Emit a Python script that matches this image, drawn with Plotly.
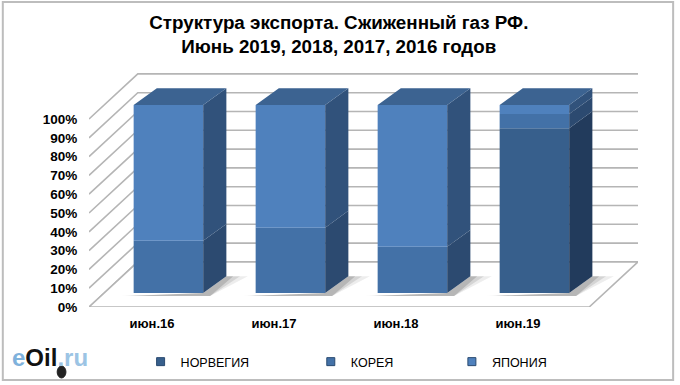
import plotly.graph_objects as go

categories = ["июн.16", "июн.17", "июн.18", "июн.19"]
norway = [0, 0, 0, 87.7]
korea = [27.8, 34.8, 24.6, 7.5]
japan = [72.2, 65.2, 75.4, 4.8]
y_ticks = list(range(0, 101, 10))
title = "Структура экспорта. Сжиженный газ РФ.<br>Июнь 2019, 2018, 2017, 2016 годов"

series = [
    ("НОРВЕГИЯ", norway, "#375f8c", "#223b5c", "legend", 0.094),
    ("КОРЕЯ", korea, "#4371a7", "#2c4a70", "legend2", 0.404),
    ("ЯПОНИЯ", japan, "#4f81bd", "#31527b", "legend3", 0.661),
]

# Oblique projection, expressed in axis units
X0, X1 = -0.516, 3.984
WALL_DX, WALL_DY = 0.40, 24.0      # depth of the floor / side wall
BAR_SHIFT, BAR_BASE = 0.135, 7.4   # front face of bars relative to front edge
BAR_W = 0.57
BAR_DX, BAR_DY = 0.19, 9.0         # depth of the bars

fig = go.Figure()

# walls and gridlines (lower subplot)
gx, gy = [], []
for t in y_ticks:
    gx += [X0, X0 + WALL_DX, X1, None]
    gy += [t, t + WALL_DY, t + WALL_DY, None]
fig.add_trace(go.Scatter(x=gx, y=gy, mode="lines", showlegend=False, hoverinfo="skip",
                         line=dict(color="#b5b5b5", width=1.6)))
# floor plate
fig.add_trace(go.Scatter(x=[X0, X0 + WALL_DX, X1, X1 - WALL_DX, X0],
                         y=[0, WALL_DY, WALL_DY, 0, 0], mode="lines", fill="toself",
                         fillcolor="white", showlegend=False, hoverinfo="skip",
                         line=dict(color="#b5b5b5", width=1.6)))

# soft shadows on the floor
for grow, col in ((0.11, "rgba(0,0,0,0.07)"), (0.07, "rgba(0,0,0,0.10)"), (0.035, "rgba(0,0,0,0.14)")):
    sx, sy = [], []
    for i in range(len(categories)):
        l = i + BAR_SHIFT - BAR_W / 2
        r = l + BAR_W
        sx += [l - grow, r + BAR_DX * 0.3, r + BAR_DX + grow * 1.6, r + BAR_DX, r, l - grow, None]
        sy += [BAR_BASE - 1.5, BAR_BASE - 1.5, BAR_BASE + BAR_DY, BAR_BASE + BAR_DY, BAR_BASE, BAR_BASE - 1.5, None]
    fig.add_trace(go.Scatter(x=sx, y=sy, mode="lines", fill="toself", fillcolor=col,
                             line=dict(width=0), showlegend=False, hoverinfo="skip"))

# bars: front faces, side faces and top faces (upper subplot)
cum = [BAR_BASE] * len(categories)
for name, vals, front, side, leg, lx in series:
    fig.add_trace(go.Bar(x=list(range(len(categories))), y=vals, base=list(cum), xaxis="x2", yaxis="y2",
                         offset=BAR_SHIFT - BAR_W / 2, width=BAR_W, marker=dict(color=front, line=dict(width=0)),
                         showlegend=False, name=name))
    sx, sy = [], []
    for i, v in enumerate(vals):
        if v > 0:
            r = i + BAR_SHIFT + BAR_W / 2
            b, t = cum[i], cum[i] + v
            sx += [r, r + BAR_DX, r + BAR_DX, r, r, None]
            sy += [b, b + BAR_DY, t + BAR_DY, t, b, None]
    fig.add_trace(go.Scatter(x=sx, y=sy, xaxis="x2", yaxis="y2", mode="lines", fill="toself",
                             fillcolor=side, line=dict(width=0), showlegend=False, hoverinfo="skip"))
    cum = [c + v for c, v in zip(cum, vals)]
    # legend key
    fig.add_trace(go.Scatter(x=[None], y=[None], mode="markers", name=name, legend=leg,
                             marker=dict(symbol="square", size=8, color=front, line=dict(color="#2a4a70", width=1))))

tx, ty = [], []
for i, c in enumerate(cum):
    l = i + BAR_SHIFT - BAR_W / 2
    r = l + BAR_W
    tx += [l, l + BAR_DX, r + BAR_DX, r, l, None]
    ty += [c, c + BAR_DY, c + BAR_DY, c, c, None]
fig.add_trace(go.Scatter(x=tx, y=ty, xaxis="x2", yaxis="y2", mode="lines", fill="toself",
                         fillcolor="#3c6391", line=dict(width=0), showlegend=False, hoverinfo="skip"))

legend_common = dict(orientation="h", yanchor="middle", xanchor="left", yref="container", y=0.0597,
                     font=dict(family="Liberation Sans", size=12.5, color="#000000"),
                     bgcolor="rgba(0,0,0,0)", itemwidth=30, tracegroupgap=0)

fig.update_layout(
    width=680, height=385, autosize=False,
    margin=dict(l=89, r=42, t=72, b=78),
    paper_bgcolor="white", plot_bgcolor="white", barmode="overlay",
    title=dict(text=title, x=0.455, xref="paper", xanchor="center", y=0.925, yanchor="top",
               font=dict(family="Liberation Sans", size=18.8, color="#000000", weight="bold")),
    xaxis=dict(range=[X0, X1], tickvals=list(range(len(categories))), ticktext=categories,
               showgrid=False, zeroline=False, showline=False, ticks="outside", ticklen=4,
               tickcolor="rgba(0,0,0,0)",
               tickfont=dict(family="Liberation Sans", size=13, color="#000000", weight="bold")),
    yaxis=dict(range=[0, 125], tickvals=y_ticks, ticktext=[f"{t}%" for t in y_ticks],
               showgrid=False, zeroline=False, showline=False, ticks="outside", ticklen=8,
               tickcolor="rgba(0,0,0,0)",
               tickfont=dict(family="Liberation Sans", size=13.5, color="#000000", weight="bold")),
    xaxis2=dict(range=[X0, X1], overlaying="x", visible=False),
    yaxis2=dict(range=[0, 125], overlaying="y", visible=False),
    legend=dict(x=series[0][5], **legend_common),
    legend2=dict(x=series[1][5], **legend_common),
    legend3=dict(x=series[2][5], **legend_common),
    shapes=[
        dict(type="rect", xref="paper", yref="paper", layer="below",
             x0=-0.157, x1=1.064, y0=-0.311, y1=1.298,
             line=dict(color="#bdbdbd", width=2)),
        dict(type="circle", xref="paper", yref="paper", layer="above",
             x0=-0.058, x1=-0.042, y0=-0.302, y1=-0.251,
             fillcolor="#222222", line=dict(color="#222222", width=1)),
    ],
    annotations=[dict(xref="paper", yref="paper", x=-0.144, y=-0.217, xanchor="left", yanchor="middle",
                      showarrow=False,
                      text='<span style="color:#7fb2dc">e</span><span style="color:#111111">Oil</span>'
                           '<span style="color:#9cc4e4">.ru</span>',
                      font=dict(family="Liberation Sans", size=24, weight="bold"))],
)
fig.write_html("out.html", config={"displayModeBar": False},
               post_script="document.body.style.margin='0';")
